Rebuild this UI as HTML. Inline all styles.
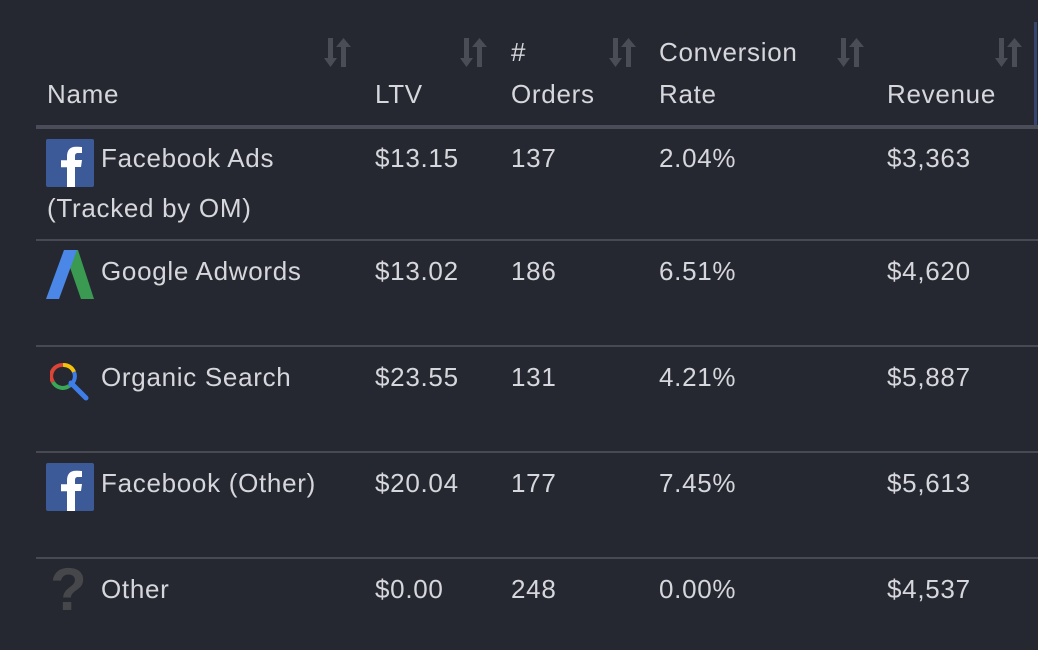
<!DOCTYPE html>
<html><head><meta charset="utf-8">
<style>
html,body{margin:0;padding:0;width:1038px;height:650px;background:#252830;overflow:hidden}
body{font-family:"Liberation Sans",Arial,sans-serif;color:#d6d7dc;font-size:26px;letter-spacing:0.7px;position:relative}
.t{position:absolute;line-height:30px;white-space:nowrap}
.sep{position:absolute;left:36px;width:1002px;height:2px;background:#474a53}
.sort{position:absolute;top:37px;width:30px;height:31px}
.ic{position:absolute}
</style></head>
<body>
<div style="position:absolute;left:1034px;top:22px;width:3px;height:104px;background:#35456f"></div>

<div class="t" style="left:47px;top:79px">Name</div>
<div class="t" style="left:375px;top:79px">LTV</div>
<div class="t" style="left:511px;top:37px">#<br><span style="display:inline-block;margin-top:12px">Orders</span></div>
<div class="t" style="left:659px;top:37px">Conversion<br><span style="display:inline-block;margin-top:12px">Rate</span></div>
<div class="t" style="left:887px;top:79px">Revenue</div>

<svg class="sort" style="left:324px" viewBox="0 0 30 31"><path d="M4 1h5v20h4l-6.5 9L0 21h4z M17 10h5v20h-5z M12 10l7.5-9L27 10z" fill="#4a4d56"/></svg>
<svg class="sort" style="left:460px" viewBox="0 0 30 31"><path d="M4 1h5v20h4l-6.5 9L0 21h4z M17 10h5v20h-5z M12 10l7.5-9L27 10z" fill="#4a4d56"/></svg>
<svg class="sort" style="left:609px" viewBox="0 0 30 31"><path d="M4 1h5v20h4l-6.5 9L0 21h4z M17 10h5v20h-5z M12 10l7.5-9L27 10z" fill="#4a4d56"/></svg>
<svg class="sort" style="left:837px" viewBox="0 0 30 31"><path d="M4 1h5v20h4l-6.5 9L0 21h4z M17 10h5v20h-5z M12 10l7.5-9L27 10z" fill="#4a4d56"/></svg>
<svg class="sort" style="left:995px" viewBox="0 0 30 31"><path d="M4 1h5v20h4l-6.5 9L0 21h4z M17 10h5v20h-5z M12 10l7.5-9L27 10z" fill="#4a4d56"/></svg>

<div class="sep" style="top:125px;height:4px;background:#4a4d57"></div>

<svg class="ic" style="left:46px;top:139px" width="48" height="48" viewBox="0 0 48 48"><rect width="48" height="48" rx="2" fill="#3d5a98"/><path d="M29 48V28h6l1-7h-7v-4c0-2 1-3 3-3h4V8c-1 0-3-.3-6-.3-6 0-9 3.5-9 9.5v4h-6v7h6v20z" fill="#fff"/></svg>
<div class="t" style="left:101px;top:143px">Facebook Ads</div>
<div class="t" style="left:47px;top:193px">(Tracked by OM)</div>
<div class="t" style="left:375px;top:143px">$13.15</div>
<div class="t" style="left:511px;top:143px">137</div>
<div class="t" style="left:659px;top:143px">2.04%</div>
<div class="t" style="left:887px;top:143px">$3,363</div>
<div class="sep" style="top:239px"></div>

<svg class="ic" style="left:46px;top:250px" width="48" height="49" viewBox="0 0 48 49"><path d="M18 0h14L48 49H35z" fill="#3a9a52"/><path d="M18 0h13L13 49H0z" fill="#4a87e6"/></svg>
<div class="t" style="left:101px;top:256px">Google Adwords</div>
<div class="t" style="left:375px;top:256px">$13.02</div>
<div class="t" style="left:511px;top:256px">186</div>
<div class="t" style="left:659px;top:256px">6.51%</div>
<div class="t" style="left:887px;top:256px">$4,620</div>
<div class="sep" style="top:345px"></div>

<svg class="ic" style="left:50px;top:361px" width="42" height="42" viewBox="0 0 42 42"><path d="M13 4 A11 11 0 0 1 24 11" stroke="#f4c20d" stroke-width="4" fill="none"/><path d="M24 11 A11 11 0 0 1 19 25" stroke="#3f7ee8" stroke-width="4" fill="none"/><path d="M19 25 A11 11 0 0 1 3 21" stroke="#3aa757" stroke-width="4" fill="none"/><path d="M3 21 A11 11 0 0 1 13 4" stroke="#db4437" stroke-width="4" fill="none"/><path d="M21 22 L36 37" stroke="#3f7ee8" stroke-width="5" stroke-linecap="round"/></svg>
<div class="t" style="left:101px;top:362px">Organic Search</div>
<div class="t" style="left:375px;top:362px">$23.55</div>
<div class="t" style="left:511px;top:362px">131</div>
<div class="t" style="left:659px;top:362px">4.21%</div>
<div class="t" style="left:887px;top:362px">$5,887</div>
<div class="sep" style="top:451px"></div>

<svg class="ic" style="left:46px;top:463px" width="48" height="48" viewBox="0 0 48 48"><rect width="48" height="48" rx="2" fill="#3d5a98"/><path d="M29 48V28h6l1-7h-7v-4c0-2 1-3 3-3h4V8c-1 0-3-.3-6-.3-6 0-9 3.5-9 9.5v4h-6v7h6v20z" fill="#fff"/></svg>
<div class="t" style="left:101px;top:468px">Facebook (Other)</div>
<div class="t" style="left:375px;top:468px">$20.04</div>
<div class="t" style="left:511px;top:468px">177</div>
<div class="t" style="left:659px;top:468px">7.45%</div>
<div class="t" style="left:887px;top:468px">$5,613</div>
<div class="sep" style="top:557px"></div>

<div class="ic" style="left:50px;top:560px;font-size:60px;font-weight:bold;letter-spacing:0;color:#46474b;line-height:60px;font-family:'Liberation Sans',sans-serif">?</div>
<div class="t" style="left:101px;top:574px">Other</div>
<div class="t" style="left:375px;top:574px">$0.00</div>
<div class="t" style="left:511px;top:574px">248</div>
<div class="t" style="left:659px;top:574px">0.00%</div>
<div class="t" style="left:887px;top:574px">$4,537</div>
</body></html>
